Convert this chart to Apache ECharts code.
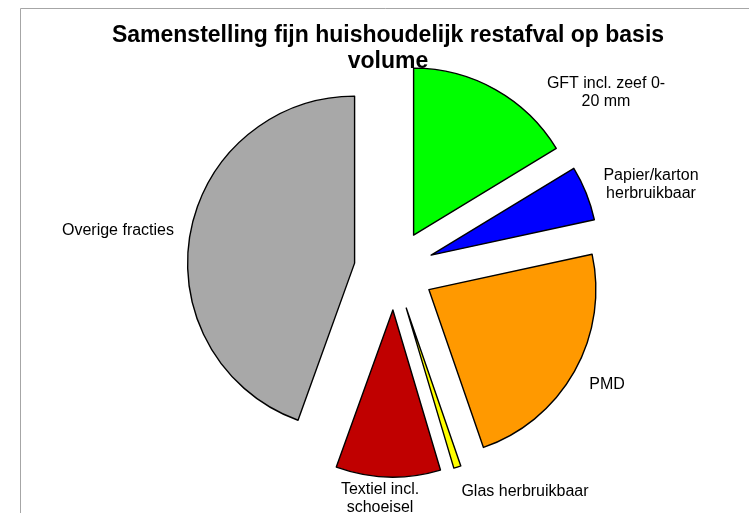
<!DOCTYPE html>
<html>
<head>
<meta charset="utf-8">
<title>Samenstelling fijn huishoudelijk restafval</title>
<script src="https://cdn.jsdelivr.net/npm/echarts@6/dist/echarts.min.js"></script>
<style>
  html, body { margin: 0; padding: 0; background: #fff; }
  #chart { width: 749px; height: 513px; }
</style>
</head>
<body>
<div id="chart"></div>
<script>
// fractions, clockwise from 12 o'clock (percent of volume)
const categories = [
  'GFT incl. zeef 0-\n20 mm',
  'Papier/karton\nherbruikbaar',
  'PMD',
  'Glas herbruikbaar',
  'Textiel incl.\nschoeisel',
  'Overige fracties'
]
const shares = [16.3, 5.3, 23.1, 0.7, 10.1, 44.5]
const sliceColors = ['#00ff00', '#0000ff', '#ff9900', '#ffff00', '#c00000', '#a8a8a8']

const chart = echarts.init(document.getElementById('chart'))

// label spots (text centre) as Excel placed them
const labelSpots = [
  [606, 93],
  [651, 185],
  [607, 385],
  [525, 492],
  [380, 499],
  [118, 231]
]

const sliceStyle = { borderColor: '#000', borderWidth: 1.4 }

const labelTexts = categories.map((c, i) => ({
  type: 'text',
  silent: true,
  z: 10,
  style: {
    text: c,
    x: labelSpots[i][0],
    y: labelSpots[i][1],
    textAlign: 'center',
    textVerticalAlign: 'middle',
    fontFamily: 'Liberation Sans, Arial, sans-serif',
    fontSize: 16,
    lineHeight: 18,
    fill: '#000'
  }
}))

chart.setOption({
  backgroundColor: '#fff',
  animation: false,
  title: {
    text: 'Samenstelling fijn huishoudelijk restafval op basis\nvolume',
    left: 383,
    top: 18,
    textAlign: 'center',
    textStyle: {
      fontFamily: 'Liberation Sans, Arial, sans-serif',
      fontSize: 23,
      fontWeight: 'bold',
      lineHeight: 26,
      color: '#000'
    }
  },
  graphic: [
    {
      type: 'polyline',
      silent: true,
      shape: { points: [[20.5, 520], [20.5, 8.5], [760, 8.5]] },
      style: { stroke: '#a6a6a6', lineWidth: 1, fill: null }
    },
    ...labelTexts
  ],
  series: [
    {
      name: 'Samenstelling',
      type: 'pie',
      center: [394, 270],
      radius: 167,
      startAngle: 90,
      clockwise: true,
      selectedMode: 'multiple',
      selectedOffset: 40,
      avoidLabelOverlap: false,
      emphasis: { disabled: true },
      select: { itemStyle: sliceStyle },
      itemStyle: sliceStyle,
      label: { show: false },
      labelLine: { show: false },
      data: categories.map((c, i) => ({
        name: c,
        value: shares[i],
        selected: true,
        itemStyle: { color: sliceColors[i] }
      }))
    }
  ]
})
</script>
</body>
</html>
